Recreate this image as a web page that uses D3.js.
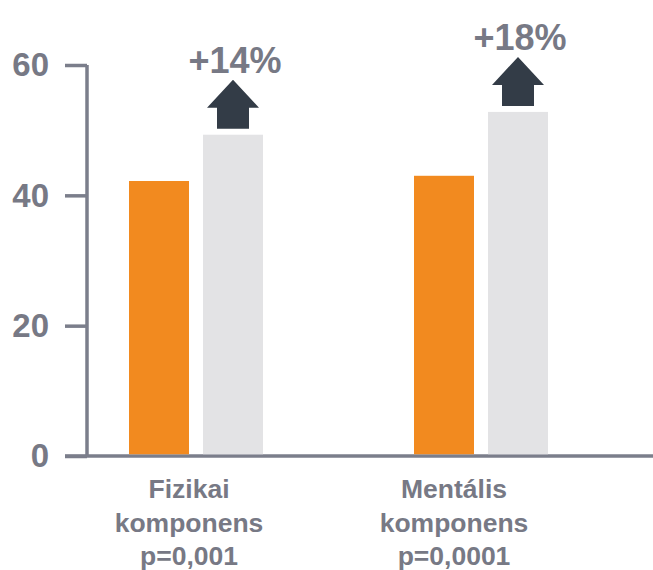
<!DOCTYPE html>
<html>
<head>
<meta charset="utf-8">
<script src="https://cdn.jsdelivr.net/npm/d3@7/dist/d3.min.js"></script>
<style>
  html, body { margin: 0; padding: 0; background: #ffffff; }
  svg { display: block; font-family: "Liberation Sans", Arial, Helvetica, sans-serif; font-weight: bold; }
</style>
</head>
<body>
<svg id="chart" width="653" height="570"></svg>
<script>
// Component scores, before (orange) and after (grey)
const categories = ["Fizikai", "Mentális"];
const categoryLines = [
  ["Fizikai", "komponens", "p=0,001"],
  ["Mentális", "komponens", "p=0,0001"]
];
const beforeValues = [42.2, 43.0];
const afterValues = [49.3, 52.8];
const changeLabels = ["+14%", "+18%"];
const yTicks = [0, 20, 40, 60];

const textColor = "#777985";
const axisColor = "#7b7e8b";
const orange = "#f28a1f";
const grey = "#e3e3e5";
const arrowColor = "#333c47";

const svg = d3.select("#chart");

const y = d3.scaleLinear().domain([0, 60]).range([456, 65]);
const x = d3.scalePoint().domain(categories).range([196, 481]);
const sub = d3.scaleBand().domain(["before", "after"]).range([-67, 67]).paddingInner(14 / 74);
const barW = sub.bandwidth();
const labelShift = [-7, -27];

// Axes
const yAxis = d3.axisLeft(y).tickValues(yTicks).tickSize(22).tickPadding(16).tickSizeOuter(0);
const gy = svg.append("g").attr("transform", "translate(87,0)").call(yAxis);
gy.select(".domain").attr("stroke", axisColor).attr("stroke-width", 3.5)
  .attr("d", `M0,${y(60)}V${y(0)}`);
gy.selectAll(".tick line").attr("stroke", axisColor).attr("stroke-width", 3.5);
gy.selectAll(".tick text")
  .attr("fill", textColor)
  .attr("font-size", 33)
  .attr("font-weight", "bold")
  .attr("font-family", "'Liberation Sans', Arial, sans-serif")
  .attr("dy", "0.33em");

svg.append("line")
  .attr("x1", 65).attr("x2", 653)
  .attr("y1", y(0)).attr("y2", y(0))
  .attr("stroke", axisColor).attr("stroke-width", 3.5);

// Bars
const groups = svg.append("g").selectAll("g")
  .data(categories)
  .join("g")
  .attr("transform", d => `translate(${x(d)},0)`);

groups.append("rect")
  .attr("x", sub("before"))
  .attr("width", barW)
  .attr("y", (d, i) => y(beforeValues[i]))
  .attr("height", (d, i) => y(0) - y(beforeValues[i]) - 1.75)
  .attr("fill", orange);

groups.append("rect")
  .attr("x", sub("after"))
  .attr("width", barW)
  .attr("y", (d, i) => y(afterValues[i]))
  .attr("height", (d, i) => y(0) - y(afterValues[i]) - 1.75)
  .attr("fill", grey);

// Up arrows above the second bar
const cx = sub("after") + barW / 2;
const gap = 6, bodyH = 21, bodyW = 32, headH = 28, headW = 52;
groups.append("path")
  .attr("fill", arrowColor)
  .attr("d", (d, i) => {
    const b = y(afterValues[i]) - gap;
    const hb = b - bodyH;
    const tip = hb - headH;
    return `M${cx - bodyW / 2},${b}V${hb}H${cx - headW / 2}L${cx},${tip}L${cx + headW / 2},${hb}H${cx + bodyW / 2}V${b}Z`;
  });

groups.append("text")
  .attr("x", cx + 2)
  .attr("y", (d, i) => y(afterValues[i]) - gap - bodyH - headH - 7)
  .attr("text-anchor", "middle")
  .attr("fill", textColor)
  .attr("font-size", 36)
  .text((d, i) => changeLabels[i]);

// Category labels
groups.append("text")
  .attr("text-anchor", "middle")
  .attr("fill", textColor)
  .attr("font-size", 26.5)
  .each(function (d, i) {
    d3.select(this).selectAll("tspan")
      .data(categoryLines[i])
      .join("tspan")
      .attr("x", labelShift[i])
      .attr("y", (t, j) => 498 + j * 33.5)
      .text(t => t);
  });
</script>
</body>
</html>
